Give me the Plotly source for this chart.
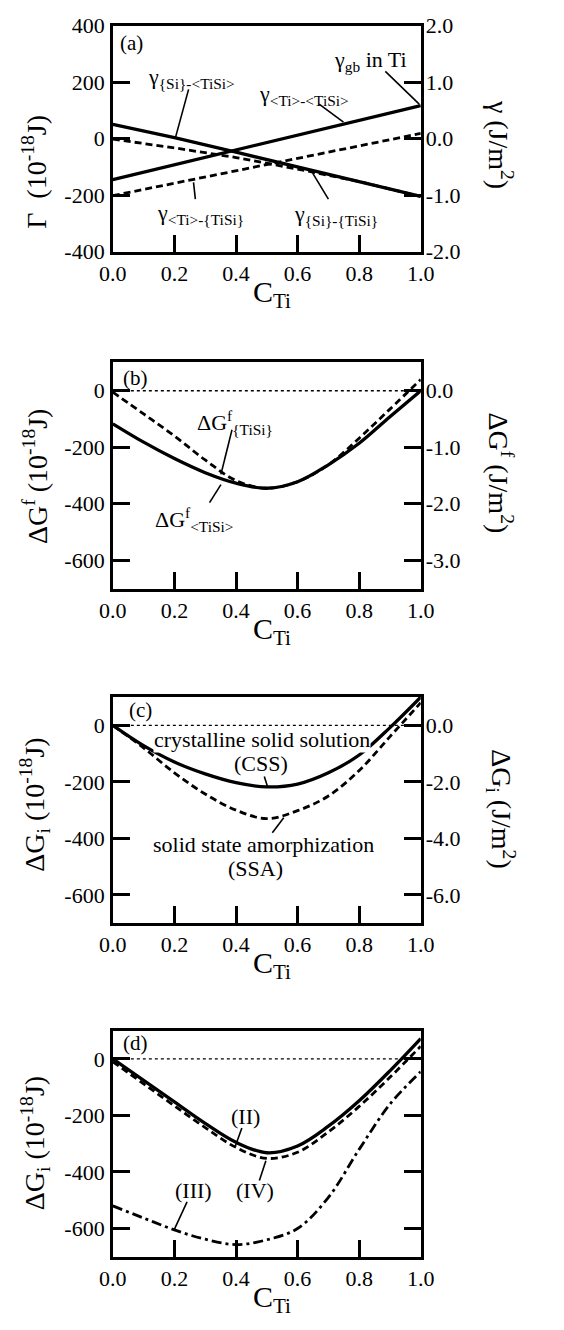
import plotly.graph_objects as go

# ---------------- data ----------------
# panel (a): interface energies vs C_Ti
C_A = [0.0, 0.2, 0.4, 0.6, 0.8, 1.0]
G_SI_TISI_ANG = [50, 3, -48, -100, -152, -205]     # gamma {Si}-<TiSi>  (solid)
G_TI_TISI_ANG = [-145, -93, -40, 12, 65, 117]       # gamma <Ti>-<TiSi>  (solid)
G_SI_TISI_BR = [-2, -33, -67, -108, -152, -205]     # gamma {Si}-{TiSi}  (dashed)
G_TI_TISI_BR = [-202, -158, -113, -70, -27, 18]     # gamma <Ti>-{TiSi}  (dashed)

C = [0.0, 0.1, 0.2, 0.3, 0.4, 0.5, 0.6, 0.7, 0.8, 0.9, 1.0]
# panel (b)
DGF_ANG = [-117, -182, -240, -290, -327, -345, -322, -262, -186, -92, 0]
DGF_BR = [-5, -82, -160, -245, -318, -345, -322, -262, -168, -65, 40]
# panel (c)
DGI_CSS = [0, -72, -130, -172, -203, -218, -208, -168, -105, -8, 100]
DGI_SSA = [0, -80, -168, -243, -300, -330, -302, -250, -160, -40, 80]
# panel (d)
DGI_II = [0, -76, -152, -228, -295, -332, -308, -238, -148, -42, 72]
DGI_IV = [-10, -88, -166, -243, -313, -352, -330, -258, -168, -65, 45]
DGI_III = [-520, -563, -605, -638, -657, -640, -600, -490, -320, -160, -45]

# ticks
X_TICKS = [0.0, 0.2, 0.4, 0.6, 0.8, 1.0]
X_TICKTEXT = ["0.0", "0.2", "0.4", "0.6", "0.8", "1.0"]
YA_TICKS = [400, 200, 0, -200, -400]
YA_TICKTEXT = ["400", "200", "0", "-200", "-400"]
YA_R_TICKS = [2, 1, 0, -1, -2]
YA_R_TICKTEXT = ["2.0", "1.0", "0.0", "-1.0", "-2.0"]
YG_TICKS = [0, -200, -400, -600]
YG_TICKTEXT = ["0", "-200", "-400", "-600"]
YB_R_TICKS = [0, -1, -2, -3]
YB_R_TICKTEXT = ["0.0", "-1.0", "-2.0", "-3.0"]
YC_R_TICKS = [0, -2, -4, -6]
YC_R_TICKTEXT = ["0.0", "-2.0", "-4.0", "-6.0"]

# ---------------- layout geometry ----------------
W, H = 564, 1330
FX0, FX1 = 104, 428
S = 0.288                      # px per data unit (vertical)
ZERO_PX = [129, 386, 727, 1067]
YRANGES = [[-400, 400], [-700, 100], [-700, 100], [-700, 100]]
PANELS_PX = [(z - r[1] * S, z - r[0] * S) for z, r in zip(ZERO_PX, YRANGES)]


def py(px):
    return 1 - px / H


FONT = "Liberation Serif"
BLACK = "black"

fig = go.Figure()

SOLID = dict(color=BLACK, width=3.3)
DASH = dict(color=BLACK, width=2.8, dash="7px,4px")


def add(x, y, xa, ya, line, shape="linear"):
    ln = dict(line)
    if shape == "spline":
        ln["shape"] = "spline"
        ln["smoothing"] = 1.0
    fig.add_trace(go.Scatter(x=x, y=y, xaxis=xa, yaxis=ya, mode="lines",
                             line=ln, showlegend=False, hoverinfo="skip"))


# (a)
add(C_A, G_SI_TISI_BR, "x", "y", DASH)
add(C_A, G_TI_TISI_BR, "x", "y", DASH)
add(C_A, G_SI_TISI_ANG, "x", "y", SOLID)
add(C_A, G_TI_TISI_ANG, "x", "y", SOLID)
# (b)
add(C, DGF_BR, "x2", "y2", DASH, "spline")
add(C, DGF_ANG, "x2", "y2", SOLID, "spline")
# (c)
add(C, DGI_SSA, "x3", "y3", DASH, "spline")
add(C, DGI_CSS, "x3", "y3", SOLID, "spline")
# (d)
add(C, DGI_IV, "x4", "y4", DASH, "spline")
add(C, DGI_III, "x4", "y4", dict(color=BLACK, width=2.8, dash="10px,4px,3px,4px"), "spline")
add(C, DGI_II, "x4", "y4", SOLID, "spline")

# dummy traces so secondary axes are drawn
for xa, ya in [("x", "y5"), ("x2", "y6"), ("x3", "y7")]:
    fig.add_trace(go.Scatter(x=[None], y=[None], xaxis=xa, yaxis=ya,
                             showlegend=False, hoverinfo="skip"))

TICKFONT = dict(family=FONT, size=22, color=BLACK)
layout = dict(width=W, height=H, margin=dict(l=0, r=0, t=0, b=0),
              paper_bgcolor="white", plot_bgcolor="white", showlegend=False)

x_dom = [FX0 / W, FX1 / W]
yticks = [(YA_TICKS, YA_TICKTEXT), (YG_TICKS, YG_TICKTEXT), (YG_TICKS, YG_TICKTEXT), (YG_TICKS, YG_TICKTEXT)]
for i, (top, bot) in enumerate(PANELS_PX):
    n = "" if i == 0 else str(i + 1)
    dom = [py(bot), py(top)]
    layout["xaxis" + n] = dict(domain=x_dom, anchor="y" + n, range=[0, 1],
                               tickvals=X_TICKS, ticktext=X_TICKTEXT,
                               ticks="inside", ticklen=17, tickwidth=2.5, tickcolor=BLACK,
                               showline=True, linewidth=2.5, linecolor=BLACK, mirror=True,
                               showgrid=False, zeroline=False, tickfont=TICKFONT,
                               ticklabelstandoff=0, ticklabeloverflow="allow")
    layout["yaxis" + n] = dict(domain=dom, anchor="x" + n, range=YRANGES[i],
                               tickvals=yticks[i][0], ticktext=yticks[i][1],
                               ticks="inside", ticklen=17, tickwidth=2.5, tickcolor=BLACK,
                               showline=True, linewidth=2.5, linecolor=BLACK, mirror="ticks",
                               showgrid=False, zeroline=False, tickfont=TICKFONT,
                               ticklabelstandoff=1, ticklabeloverflow="allow")

right_specs = [("5", "", [-2, 2], YA_R_TICKS, YA_R_TICKTEXT),
               ("6", "2", [-3.5, 0.5], YB_R_TICKS, YB_R_TICKTEXT),
               ("7", "3", [-7, 1], YC_R_TICKS, YC_R_TICKTEXT)]
for n, base, rng, tv, tt in right_specs:
    layout["yaxis" + n] = dict(overlaying="y" + base, anchor="x" + base, side="right",
                               range=rng, tickvals=tv, ticktext=tt, ticks="",
                               showline=False, showgrid=False, zeroline=False,
                               tickfont=TICKFONT, ticklabelstandoff=4, ticklabeloverflow="allow")
fig.update_layout(**layout)

# zero reference lines (dotted) in b, c, d
for n in ["2", "3", "4"]:
    fig.add_shape(type="line", xref="x" + n + " domain", yref="y" + n,
                  x0=0, x1=1, y0=0, y1=0, layer="below",
                  line=dict(color=BLACK, width=1.3, dash="dot"))

ANN_FONT = dict(family=FONT, size=22, color=BLACK)

# in-plot labels: (text, C, value, axis suffix)
LABELS = [
    ("(a)", 0.018, 340, ""),
    ("(b)", 0.026, 45, "2"),
    ("(c)", 0.045, 53, "3"),
    ("(d)", 0.026, 55, "4"),
]
for t, x, y, n in LABELS:
    fig.add_annotation(text=t, x=x, y=y, xref="x" + n, yref="y" + n, xanchor="left",
                       yanchor="middle", showarrow=False, font=dict(family=FONT, size=21, color=BLACK))

NOTES = [
    ("γ<sub>{Si}-&lt;TiSi&gt;</sub>", 0.257, 215, "", False),
    ("γ<sub>&lt;Ti&gt;-&lt;TiSi&gt;</sub>", 0.62, 153, "", False),
    ("γ<sub>gb</sub> in Ti", 0.838, 276, "", False),
    ("γ<sub>&lt;Ti&gt;-{TiSi}</sub>", 0.285, -267, "", False),
    ("γ<sub>{Si}-{TiSi}</sub>", 0.725, -272, "", False),
    ("ΔG<sup>f</sup><sub>{TiSi}</sub>", 0.398, -114, "2", False),
    ("ΔG<sup>f</sup><sub>&lt;TiSi&gt;</sub>", 0.265, -455, "2", False),
    ("crystalline solid solution", 0.484, -50, "3", True),
    ("(CSS)", 0.48, -134, "3", False),
    ("solid state amorphization", 0.49, -422, "3", False),
    ("(SSA)", 0.463, -508, "3", False),
    ("(II)", 0.432, -203, "4", False),
    ("(IV)", 0.463, -465, "4", False),
    ("(III)", 0.262, -465, "4", False),
]
for t, x, y, n, bg in NOTES:
    fig.add_annotation(text=t, x=x, y=y, xref="x" + n, yref="y" + n, showarrow=False,
                       font=ANN_FONT, bgcolor="white" if bg else None, borderpad=0)

LEADERS = [
    ("", (0.246, 174), (0.204, 6)),
    ("", (0.67, 122), (0.749, 58)),
    ("", (0.885, 238), (0.995, 122)),
    ("", (0.262, -155), (0.268, -214)),
    ("", (0.649, -122), (0.70, -214)),
    ("2", (0.387, -138), (0.351, -296)),
    ("2", (0.314, -396), (0.351, -332)),
    ("3", (0.492, -181), (0.503, -219)),
    ("3", (0.518, -380), (0.555, -327)),
    ("4", (0.419, -244), (0.398, -308)),
    ("4", (0.476, -430), (0.497, -360)),
    ("4", (0.241, -506), (0.199, -605)),
]
for n, p0, p1 in LEADERS:
    fig.add_shape(type="line", xref="x" + n, yref="y" + n, x0=p0[0], y0=p0[1],
                  x1=p1[0], y1=p1[1], line=dict(color=BLACK, width=1.6))

# axis titles
LEFT_TITLES = ["Γ\u00a0 (10<sup>-18</sup>J)", "ΔG<sup>f</sup> (10<sup>-18</sup>J)",
               "ΔG<sub>i</sub> (10<sup>-18</sup>J)", "ΔG<sub>i</sub> (10<sup>-18</sup>J)"]
RIGHT_TITLES = ["γ (J/m<sup>2</sup>)", "ΔG<sup>f</sup> (J/m<sup>2</sup>)", "ΔG<sub>i</sub> (J/m<sup>2</sup>)"]
LEFT_TITLE_Y = [163, 473, 808, 1153]
RIGHT_TITLE_Y = [135, 470, 812]
for i, (top, bot) in enumerate(PANELS_PX):
    fig.add_annotation(text=LEFT_TITLES[i], x=22 / W, y=py(LEFT_TITLE_Y[i]),
                       xref="paper", yref="paper", textangle=-90, showarrow=False,
                       font=dict(family=FONT, size=28, color=BLACK),
                       xanchor="center", yanchor="middle")
    if i < 3:
        fig.add_annotation(text=RIGHT_TITLES[i], x=512 / W, y=py(RIGHT_TITLE_Y[i]),
                           xref="paper", yref="paper", textangle=90, showarrow=False,
                           font=dict(family=FONT, size=28, color=BLACK),
                           xanchor="center", yanchor="middle")
    fig.add_annotation(text="C<sub>Ti</sub>", x=271 / W, y=py(bot + 43),
                       xref="paper", yref="paper", showarrow=False,
                       font=dict(family=FONT, size=30, color=BLACK),
                       xanchor="center", yanchor="middle")

fig.write_html("out.html")
